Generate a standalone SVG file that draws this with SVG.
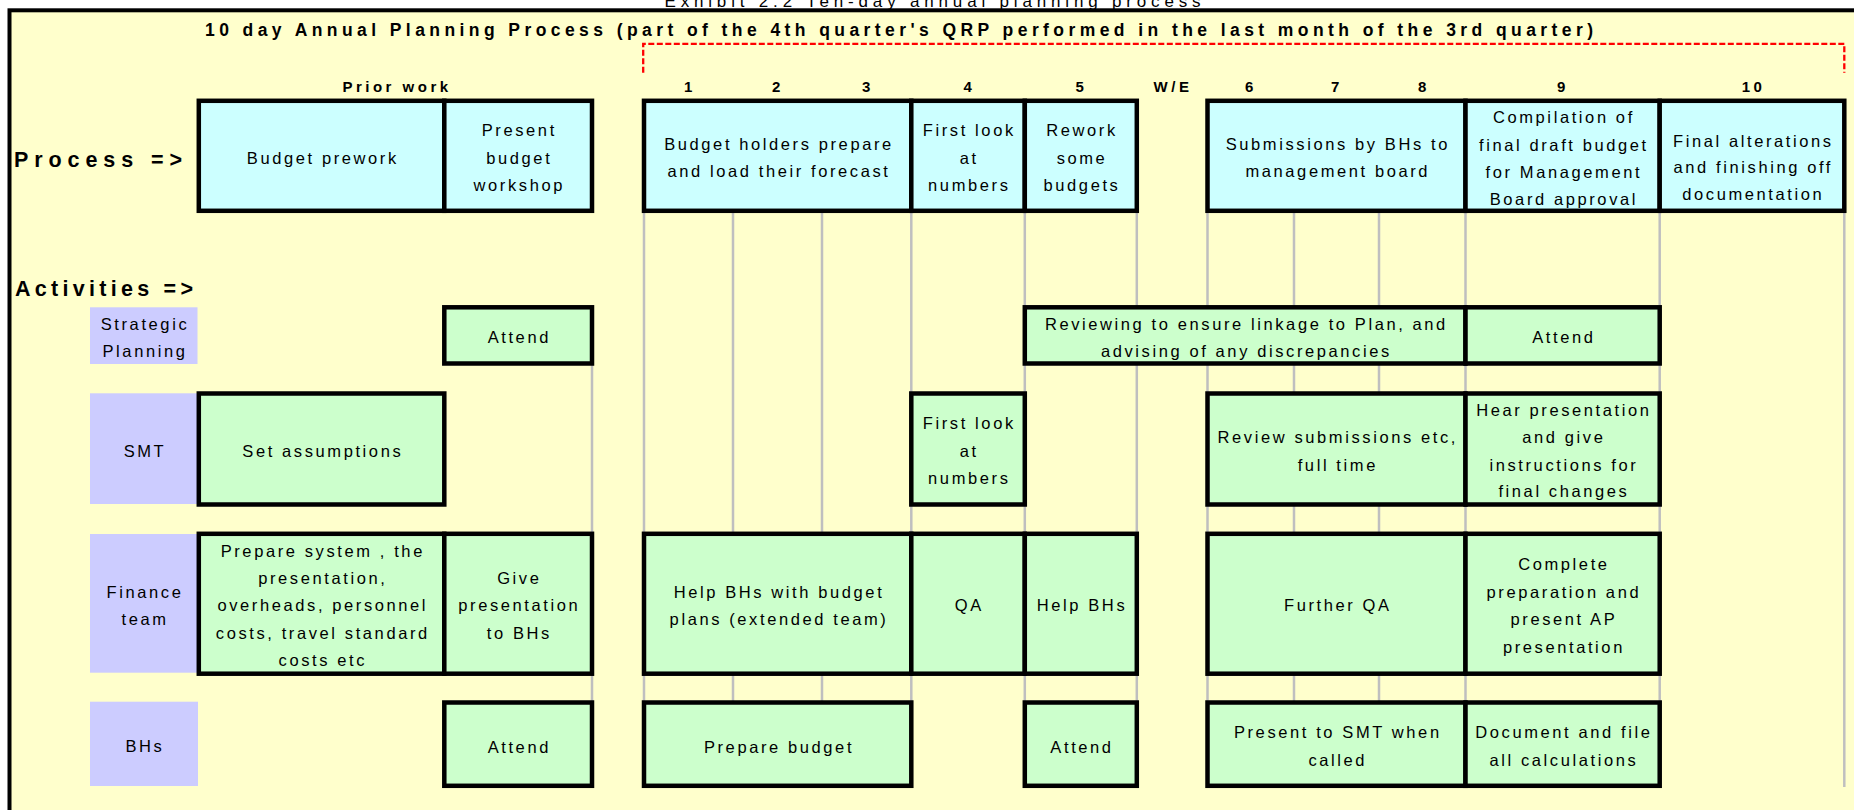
<svg xmlns="http://www.w3.org/2000/svg" width="1854" height="810" viewBox="0 0 1854 810">
<style>
text{font-family:"Liberation Sans",Arial,sans-serif;fill:#000}
.t{font-size:16.5px;letter-spacing:2.6px;text-anchor:middle}
.h{font-size:15px;font-weight:bold;letter-spacing:3.5px;text-anchor:middle}
.big{font-size:21.5px;font-weight:bold}
.proc rect{fill:#CCFFFF;stroke:#000;stroke-width:4.5}
.act rect{fill:#CCFFCC;stroke:#000;stroke-width:4.5}
.lane rect{fill:#CCCCFF}
.grid line{stroke:#BFBFBF;stroke-width:2.5}
</style>
<rect x="0" y="0" width="1854" height="810" fill="#FFFFFF"/>
<text x="664.5" y="6.5" font-size="17" textLength="536" lengthAdjust="spacing">Exhibit 2.2 Ten-day annual planning process</text>
<rect x="9.5" y="10.3" width="1900" height="900" fill="#FFFFCC" stroke="#000" stroke-width="4"/>
<text x="205" y="36" font-size="17.5" font-weight="bold" textLength="1388" lengthAdjust="spacing">10 day Annual Planning Process (part of the 4th quarter's QRP performed in the last month of the 3rd quarter)</text>
<path d="M643.2,72.7 V43.8 H1844.3 V72.7" fill="none" stroke="#FF0000" stroke-width="2.3" stroke-dasharray="6 2.5"/>
<g id="headers">
<text class="h" x="397" y="91.7">Prior work</text>
<text class="h" x="690" y="91.7">1</text>
<text class="h" x="778" y="91.7">2</text>
<text class="h" x="868" y="91.7">3</text>
<text class="h" x="969.5" y="91.7">4</text>
<text class="h" x="1081.5" y="91.7">5</text>
<text class="h" x="1173" y="91.7">W/E</text>
<text class="h" x="1251" y="91.7">6</text>
<text class="h" x="1337" y="91.7">7</text>
<text class="h" x="1424" y="91.7">8</text>
<text class="h" x="1563" y="91.7">9</text>
<text class="h" x="1753.5" y="91.7">10</text>
</g>
<text class="big" x="14" y="166.7" textLength="168" lengthAdjust="spacing">Process =&gt;</text>
<text class="big" x="15" y="296" textLength="178" lengthAdjust="spacing">Activities =&gt;</text>
<g id="connectors" class="grid">
<line x1="592" y1="307" x2="592" y2="787"/>
<line x1="644" y1="211" x2="644" y2="787"/>
<line x1="733" y1="211" x2="733" y2="787"/>
<line x1="822" y1="211" x2="822" y2="787"/>
<line x1="911.3" y1="211" x2="911.3" y2="787"/>
<line x1="1024.8" y1="211" x2="1024.8" y2="787"/>
<line x1="1136.8" y1="211" x2="1136.8" y2="787"/>
<line x1="1207.5" y1="211" x2="1207.5" y2="787"/>
<line x1="1294" y1="211" x2="1294" y2="787"/>
<line x1="1379" y1="211" x2="1379" y2="787"/>
<line x1="1465.5" y1="211" x2="1465.5" y2="787"/>
<line x1="1659.7" y1="211" x2="1659.7" y2="787"/>
<line x1="1844.3" y1="211" x2="1844.3" y2="787"/>
</g>
<g class="lane">
<g id="lane-strategic"><rect x="90" y="307.3" width="107.5" height="56.7"/><text class="t" x="145" y="330">Strategic</text><text class="t" x="145" y="356.7">Planning</text></g>
<g id="lane-smt"><rect x="90" y="393.3" width="107.5" height="110.7"/><text class="t" x="145" y="457.3">SMT</text></g>
<g id="lane-finance"><rect x="90" y="534" width="107.5" height="138.7"/><text class="t" x="145" y="598.3">Finance</text><text class="t" x="145" y="625">team</text></g>
<g id="lane-bhs"><rect x="90" y="701.7" width="108" height="84.3"/><text class="t" x="145" y="752">BHs</text></g>
</g>
<g class="proc">
<g id="p1"><rect x="198.8" y="100.8" width="245.5" height="110"/><text class="t" x="322.8" y="164">Budget prework</text></g>
<g id="p2"><rect x="444.3" y="100.8" width="147.7" height="110"/><text class="t" x="519.3" y="136.3">Present</text><text class="t" x="519.3" y="163.7">budget</text><text class="t" x="519.3" y="191">workshop</text></g>
<g id="p3"><rect x="644" y="100.8" width="267.3" height="110"/><text class="t" x="779" y="150">Budget holders prepare</text><text class="t" x="779" y="177.3">and load their forecast</text></g>
<g id="p4"><rect x="911.3" y="100.8" width="113.5" height="110"/><text class="t" x="969.3" y="136.3">First look</text><text class="t" x="969.3" y="163.7">at</text><text class="t" x="969.3" y="191">numbers</text></g>
<g id="p5"><rect x="1024.8" y="100.8" width="112" height="110"/><text class="t" x="1082" y="136.3">Rework</text><text class="t" x="1082" y="163.7">some</text><text class="t" x="1082" y="191">budgets</text></g>
<g id="p6"><rect x="1207.5" y="100.8" width="258" height="110"/><text class="t" x="1337.8" y="150">Submissions by BHs to</text><text class="t" x="1337.8" y="177.3">management board</text></g>
<g id="p7"><rect x="1465.5" y="100.8" width="194.2" height="110"/><text class="t" x="1563.9" y="123.3">Compilation of</text><text class="t" x="1563.9" y="150.7">final draft budget</text><text class="t" x="1563.9" y="178.3">for Management</text><text class="t" x="1563.9" y="205">Board approval</text></g>
<g id="p8"><rect x="1659.7" y="100.8" width="184.6" height="110"/><text class="t" x="1753.3" y="146.7">Final alterations</text><text class="t" x="1753.3" y="173.3">and finishing off</text><text class="t" x="1753.3" y="200">documentation</text></g>
</g>
<g class="act">
<g id="s1"><rect x="444.3" y="307.3" width="147.7" height="56.2"/><text class="t" x="519.3" y="343.3">Attend</text></g>
<g id="s2"><rect x="1024.8" y="307.3" width="440.7" height="56.2"/><text class="t" x="1246.4" y="330">Reviewing to ensure linkage to Plan, and</text><text class="t" x="1246.4" y="356.7">advising of any discrepancies</text></g>
<g id="s3"><rect x="1465.5" y="307.3" width="194.2" height="56.2"/><text class="t" x="1563.9" y="343.3">Attend</text></g>
<g id="m1"><rect x="198.8" y="393.5" width="245.5" height="111"/><text class="t" x="322.8" y="457.3">Set assumptions</text></g>
<g id="m2"><rect x="911.3" y="393.5" width="113.5" height="111"/><text class="t" x="969.3" y="429.3">First look</text><text class="t" x="969.3" y="457.3">at</text><text class="t" x="969.3" y="484">numbers</text></g>
<g id="m3"><rect x="1207.5" y="393.5" width="258" height="111"/><text class="t" x="1337.8" y="443.3">Review submissions etc,</text><text class="t" x="1337.8" y="470.7">full time</text></g>
<g id="m4"><rect x="1465.5" y="393.5" width="194.2" height="111"/><text class="t" x="1563.9" y="416">Hear presentation</text><text class="t" x="1563.9" y="443.3">and give</text><text class="t" x="1563.9" y="470.7">instructions for</text><text class="t" x="1563.9" y="497.3">final changes</text></g>
<g id="f1"><rect x="198.8" y="533.8" width="245.5" height="139.9"/><text class="t" x="322.8" y="556.7">Prepare system , the</text><text class="t" x="322.8" y="584">presentation,</text><text class="t" x="322.8" y="611">overheads, personnel</text><text class="t" x="322.8" y="639">costs, travel standard</text><text class="t" x="322.8" y="666">costs etc</text></g>
<g id="f2"><rect x="444.3" y="533.8" width="147.7" height="139.9"/><text class="t" x="519.3" y="584">Give</text><text class="t" x="519.3" y="611">presentation</text><text class="t" x="519.3" y="639">to BHs</text></g>
<g id="f3"><rect x="644" y="533.8" width="267.3" height="139.9"/><text class="t" x="779" y="598.3">Help BHs with budget</text><text class="t" x="779" y="625">plans (extended team)</text></g>
<g id="f4"><rect x="911.3" y="533.8" width="113.5" height="139.9"/><text class="t" x="969.3" y="611">QA</text></g>
<g id="f5"><rect x="1024.8" y="533.8" width="112" height="139.9"/><text class="t" x="1082" y="611">Help BHs</text></g>
<g id="f6"><rect x="1207.5" y="533.8" width="258" height="139.9"/><text class="t" x="1337.8" y="611">Further QA</text></g>
<g id="f7"><rect x="1465.5" y="533.8" width="194.2" height="139.9"/><text class="t" x="1563.9" y="570">Complete</text><text class="t" x="1563.9" y="598.3">preparation and</text><text class="t" x="1563.9" y="625">present AP</text><text class="t" x="1563.9" y="652.7">presentation</text></g>
<g id="b1"><rect x="444.3" y="702.5" width="147.7" height="83.3"/><text class="t" x="519.3" y="752.7">Attend</text></g>
<g id="b2"><rect x="644" y="702.5" width="267.3" height="83.3"/><text class="t" x="779" y="752.7">Prepare budget</text></g>
<g id="b3"><rect x="1024.8" y="702.5" width="112" height="83.3"/><text class="t" x="1082" y="752.7">Attend</text></g>
<g id="b4"><rect x="1207.5" y="702.5" width="258" height="83.3"/><text class="t" x="1337.8" y="738.3">Present to SMT when</text><text class="t" x="1337.8" y="766">called</text></g>
<g id="b5"><rect x="1465.5" y="702.5" width="194.2" height="83.3"/><text class="t" x="1563.9" y="738.3">Document and file</text><text class="t" x="1563.9" y="766">all calculations</text></g>
</g>
</svg>
